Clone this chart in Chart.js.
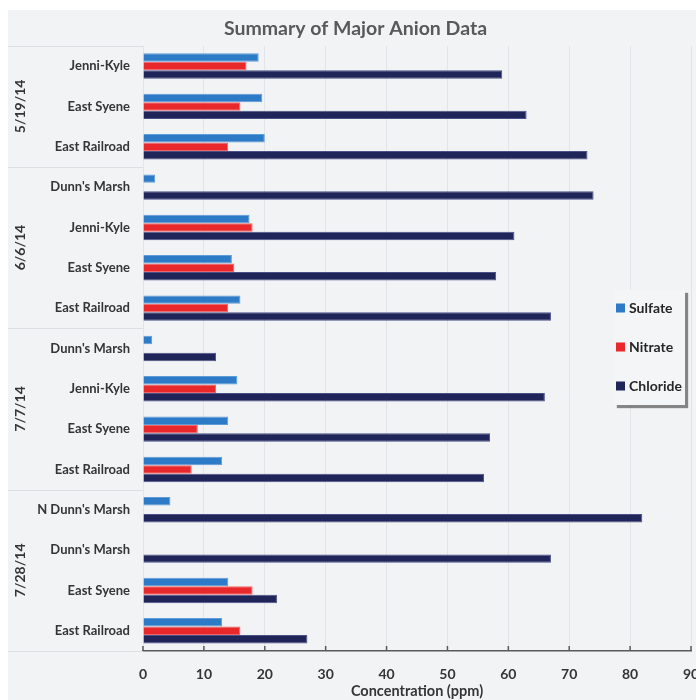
<!DOCTYPE html>
<html>
<head>
<meta charset="utf-8">
<script src="https://cdn.jsdelivr.net/npm/chart.js@4/dist/chart.umd.min.js"></script>
<style>
  html, body { margin: 0; padding: 0; background: #ffffff; overflow: hidden; }
  #wrap { width: 696px; height: 700px; position: relative; }
</style>
</head>
<body>
<div id="wrap"><canvas id="chart" width="696" height="700"></canvas></div>
<script>
// Sampling sites, top to bottom, grouped by sampling date
const sites = [
  'Jenni-Kyle', 'East Syene', 'East Railroad',
  "Dunn's Marsh", 'Jenni-Kyle', 'East Syene', 'East Railroad',
  "Dunn's Marsh", 'Jenni-Kyle', 'East Syene', 'East Railroad',
  "N Dunn's Marsh", "Dunn's Marsh", 'East Syene', 'East Railroad'
];
const sampleDates = ['5/19/14', '6/6/14', '7/7/14', '7/28/14'];
const sitesPerDate = [3, 4, 4, 4];

// Anion concentrations (ppm); null = not reported
const sulfate  = [19, 19.6, 20, 2, 17.5, 14.6, 16, 1.5, 15.5, 14, 13, 4.5, null, 14, 13];
const nitrate  = [17, 16, 14, null, 18, 15, 14, null, 12, 9, 8, null, null, 18, 16];
const chloride = [59, 63, 73, 74, 61, 58, 67, 12, 66, 57, 56, 82, 67, 22, 27];

const seriesNames = ['Sulfate', 'Nitrate', 'Chloride'];
const xMin = 0, xMax = 90, xStep = 10;

const FONT = 'Lato, "Open Sans", "DejaVu Sans", sans-serif';
const TEXT = '#353535';

// Light panel behind the whole chart
const panelBackground = {
  id: 'panelBackground',
  beforeDraw(chart) {
    const ctx = chart.ctx;
    ctx.save();
    ctx.fillStyle = '#f2f3f5';
    ctx.fillRect(8, 10, chart.width - 8, chart.height - 10);
    ctx.restore();
  }
};

// Date group separators and rotated date labels on the category axis
const dateGroups = {
  id: 'dateGroups',
  afterDraw(chart) {
    const ctx = chart.ctx;
    const y = chart.scales.y;
    const left = chart.chartArea.left;
    const pitch = y.getPixelForValue(1) - y.getPixelForValue(0);
    ctx.save();
    ctx.strokeStyle = '#dcdee2';
    ctx.lineWidth = 1;
    let start = 0;
    const edges = [0];
    sitesPerDate.forEach(n => { start += n; edges.push(start); });
    edges.forEach(i => {
      const py = Math.round(y.getPixelForValue(i) - pitch / 2) + 0.5;
      ctx.beginPath();
      ctx.moveTo(8, py);
      ctx.lineTo(left, py);
      ctx.stroke();
    });
    ctx.fillStyle = TEXT;
    ctx.font = 'bold 14px ' + FONT;
    ctx.textAlign = 'center';
    ctx.textBaseline = 'middle';
    sampleDates.forEach((d, k) => {
      const a = y.getPixelForValue(edges[k]) - pitch / 2;
      const b = y.getPixelForValue(edges[k + 1]) - pitch / 2;
      ctx.save();
      ctx.translate(left - 123, (a + b) / 2);
      ctx.rotate(-Math.PI / 2);
      ctx.fillText(d, 0, 0);
      ctx.restore();
    });
    ctx.restore();
  }
};

// Short inward tick marks on the value axis
const innerTicks = {
  id: 'innerTicks',
  afterDraw(chart) {
    const ctx = chart.ctx;
    const x = chart.scales.x;
    const bottom = chart.chartArea.bottom;
    ctx.save();
    ctx.strokeStyle = '#5a5a5a';
    ctx.lineWidth = 1.5;
    x.ticks.forEach(t => {
      const px = x.getPixelForValue(t.value);
      ctx.beginPath();
      ctx.moveTo(px, bottom - 5);
      ctx.lineTo(px, bottom);
      ctx.stroke();
    });
    ctx.restore();
  }
};

// Legend box with drop shadow, inside the plot on the right
const boxLegend = {
  id: 'boxLegend',
  afterDraw(chart) {
    const ctx = chart.ctx;
    const bx = 614, by = 290, bw = 71, bh = 115;
    ctx.save();
    ctx.shadowColor = 'rgba(0,0,0,0.45)';
    ctx.shadowOffsetX = 3;
    ctx.shadowOffsetY = 3;
    ctx.shadowBlur = 1;
    ctx.fillStyle = '#f4f5f7';
    ctx.fillRect(bx, by, bw, bh);
    ctx.restore();
    ctx.save();
    ctx.font = 'bold 14px ' + FONT;
    ctx.textAlign = 'left';
    ctx.textBaseline = 'middle';
    chart.data.datasets.forEach((ds, i) => {
      const cy = by + 18 + i * 39;
      ctx.fillStyle = ds.backgroundColor;
      ctx.fillRect(bx + 2, cy - 4.5, 9, 9);
      ctx.fillStyle = '#262626';
      ctx.fillText(ds.label, bx + 15, cy);
    });
    ctx.restore();
  }
};

new Chart(document.getElementById('chart'), {
  type: 'bar',
  data: {
    labels: sites,
    datasets: [
      { label: seriesNames[0], data: sulfate,  backgroundColor: '#2d7ac6', borderColor: '#5e9cd8', borderWidth: 1 },
      { label: seriesNames[1], data: nitrate,  backgroundColor: '#e8282b', borderColor: '#f06466', borderWidth: 1 },
      { label: seriesNames[2], data: chloride, backgroundColor: '#1f2459', borderColor: '#4b5088', borderWidth: 1 }
    ]
  },
  options: {
    indexAxis: 'y',
    responsive: false,
    animation: false,
    devicePixelRatio: 1,
    categoryPercentage: 0.63,
    barPercentage: 1.0,
    layout: { padding: { left: 20, right: 5, top: 0, bottom: 0 } },
    plugins: {
      legend: { display: false },
      tooltip: { enabled: false },
      title: {
        display: true,
        text: 'Summary of Major Anion Data',
        color: '#595959',
        font: { family: FONT, size: 19.5, weight: 'bold' },
        padding: { top: 17, bottom: 5.5 }
      }
    },
    scales: {
      x: {
        type: 'linear',
        position: 'bottom',
        min: xMin,
        max: xMax,
        ticks: {
          stepSize: xStep,
          color: TEXT,
          padding: 15,
          font: { family: FONT, size: 14, weight: 'bold' }
        },
        grid: { color: '#e2e4e7', lineWidth: 1, drawTicks: false },
        border: { display: true, color: '#5a5a5a', width: 1.5 },
        title: {
          display: true,
          text: 'Concentration (ppm)',
          color: TEXT,
          font: { family: FONT, size: 14.5, weight: 'bold' },
          padding: { top: 2, bottom: 0 }
        },
        afterFit(scale) { scale.height = 49; scale.paddingRight = 5; }
      },
      y: {
        type: 'category',
        position: 'left',
        ticks: {
          color: TEXT,
          padding: 13,
          autoSkip: false,
          font: { family: FONT, size: 13, weight: 'bold' }
        },
        grid: { display: false, drawTicks: false },
        border: { display: false },
        afterFit(scale) { scale.width = 123; }
      }
    }
  },
  plugins: [panelBackground, dateGroups, innerTicks, boxLegend]
});
</script>
</body>
</html>
